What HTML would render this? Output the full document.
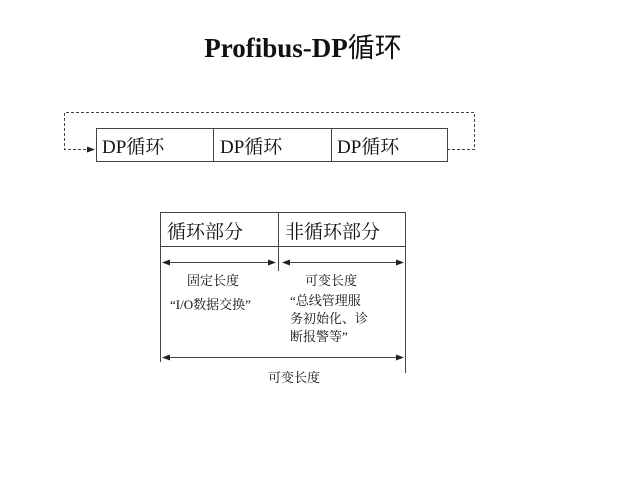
<!DOCTYPE html><html><head><style>
body{margin:0;width:640px;height:480px;background:#fff;position:relative;overflow:hidden;font-family:"Liberation Serif","Noto Serif CJK SC",serif;color:#111}
.t{position:absolute;white-space:nowrap}
</style></head><body>
<div class="t" style="left:0;width:606px;text-align:center;top:26px;font-size:27px;font-weight:bold">Profibus-DP<span style="font-family:'Noto Sans CJK SC',sans-serif;font-weight:normal">循环</span></div>
<svg width="640" height="480" style="position:absolute;left:0;top:0">
<defs><marker id="a" markerWidth="8" markerHeight="6" refX="7" refY="3" orient="auto-start-reverse"><path d="M0,0L8,3L0,6z" fill="#222"/></marker></defs>
<g fill="none" stroke="#444" stroke-width="1">
<rect x="96.5" y="128.5" width="351" height="33"/>
<line x1="213.5" y1="128" x2="213.5" y2="161"/><line x1="331.5" y1="128" x2="331.5" y2="161"/>
<path d="M447,149.5H474.5V112.5H64.5V149.5H94" stroke-dasharray="3,2" marker-end="url(#a)"/>
<path d="M160.5,212.5H405.5M160.5,246.5H405.5M160.5,212V362M405.5,212V373M278.5,212V271"/>
<line x1="163" y1="262.5" x2="275" y2="262.5" marker-end="url(#a)" marker-start="url(#a)"/>
<line x1="283" y1="262.5" x2="403" y2="262.5" marker-end="url(#a)" marker-start="url(#a)"/>
<line x1="163" y1="357.5" x2="403" y2="357.5" marker-end="url(#a)" marker-start="url(#a)"/>
</g></svg>
<div class="t" style="left:102px;top:132px;font-size:19px">DP循环</div>
<div class="t" style="left:220px;top:132px;font-size:19px">DP循环</div>
<div class="t" style="left:337px;top:132px;font-size:19px">DP循环</div>
<div class="t" style="left:167px;top:217px;font-size:19px">循环部分</div>
<div class="t" style="left:285px;top:217px;font-size:19px">非循环部分</div>
<div class="t" style="left:187px;top:270px;font-size:13px">固定长度</div>
<div class="t" style="left:305px;top:270px;font-size:13px">可变长度</div>
<div class="t" style="left:170px;top:294px;font-size:13px">“I/O数据交换”</div>
<div class="t" style="left:290px;top:292px;font-size:13px;line-height:18px">“总线管理服<br>务初始化、诊<br>断报警等”</div>
<div class="t" style="left:268px;top:367px;font-size:13px">可变长度</div>
</body></html>
